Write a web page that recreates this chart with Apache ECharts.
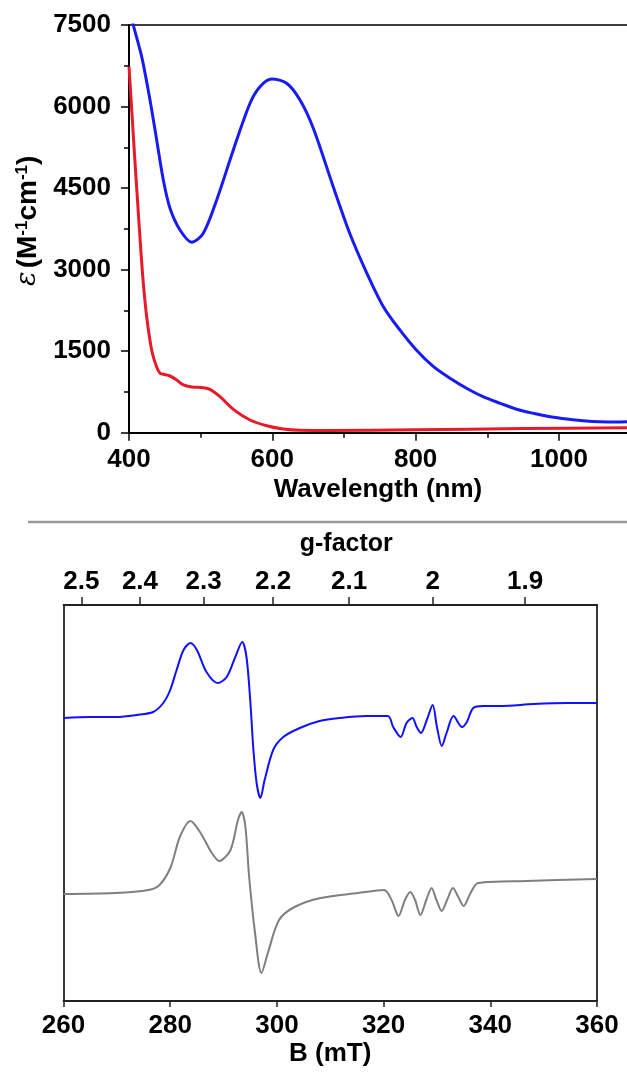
<!DOCTYPE html>
<html>
<head>
<meta charset="utf-8">
<script src="https://cdn.jsdelivr.net/npm/echarts@6/dist/echarts.min.js"></script>
<style>
  html, body { margin: 0; background: #fff; }
  #chart { width: 627px; height: 1073px; }
</style>
</head>
<body>
<div id="chart"></div>
<script>
// UV-vis: wavelength (nm) / epsilon (M-1 cm-1)
const blueLambda = [400, 406, 417.7, 429.3, 438.6, 447.9, 457.2, 471.2, 487.5, 503.7, 522.4, 545.6, 568.9, 582.8, 599.1, 620, 638.7, 657.2, 685, 708, 732, 755, 778, 801, 825, 848, 871, 894, 918, 941, 964, 988, 1011, 1034, 1057, 1081, 1095];
const blueEps    = [7830, 7500, 6918, 6122, 5386, 4650, 4130, 3729, 3503, 3669, 4282, 5202, 6061, 6366, 6508, 6429, 6120, 5600, 4526, 3669, 2933, 2318, 1890, 1522, 1214, 1001, 817, 662, 541, 431, 357, 294, 252, 221, 202, 197, 202];
const redLambda  = [400, 404, 408, 412, 416.5, 420, 424.7, 431.6, 438.5, 443.3, 448, 457.2, 466.6, 475.9, 487.5, 503.7, 513, 527, 545.6, 568.9, 592.2, 615.5, 638.7, 680, 800, 950, 1095];
const redEps     = [6734, 5900, 5050, 4250, 3362, 2749, 2134, 1522, 1214, 1093, 1075, 1043, 970, 878, 841, 828, 798, 662, 430, 234, 129, 68, 44, 40, 55, 75, 90];
const wavelengthTicks = [400, 600, 800, 1000];
const wavelengthMinor = [500, 700, 900];

// EPR: field (mT) / intensity (a.u.)
const expField = [260, 265, 270, 273.7, 276.8, 278.7, 280, 281.2, 282.5, 283.8, 285, 286.8, 288.9, 290.6, 292.2, 293.5, 294.3, 295, 295.6, 296.2, 296.9, 297.7, 299.3, 301.2, 304.3, 308, 311.8, 316.8, 320.8, 321.8, 323.2, 324.3, 325.4, 326.2, 327, 328.1, 329.2, 330, 330.9, 331.8, 333.1, 334.7, 335.6, 336.8, 338.7, 341.8, 348.1, 354.4, 360];
const expSignal = [283, 284, 284, 286, 289, 298, 311, 331, 351, 358, 351, 329, 318, 324, 344, 359, 344, 301, 251, 218, 203, 221, 251, 264, 273, 280, 283, 285, 285, 274, 264, 278, 283, 274, 268, 281, 296, 274, 255, 268, 285, 274, 279, 293, 295, 295, 297, 298, 298];
const simField = [260, 269.6, 275.9, 278, 280.1, 281.8, 283.8, 285.7, 287.8, 289.2, 291.3, 292.7, 293.4, 294.1, 294.8, 295.9, 297.1, 298.3, 300.4, 303.3, 308.2, 315.2, 320.1, 321.5, 322.8, 324, 325, 325.9, 326.9, 328, 329, 329.9, 330.9, 331.9, 333, 334, 335, 336.3, 337.7, 346.8, 360];
const simSignal = [107, 108, 111, 116, 134, 164, 180, 168, 148, 140, 151, 181, 189, 174, 124, 68, 28, 48, 81, 94, 103, 108, 111, 101, 85, 101, 109, 101, 86, 101, 113, 101, 90, 101, 113, 104, 95, 108, 118, 120, 122];
const gFactorTicks = [2.5, 2.4, 2.3, 2.2, 2.1, 2.0, 1.9];
const G_TIMES_B = 658.4; // h*nu/muB in mT (about 9.21 GHz)

const FONT = "'Liberation Sans', Arial, sans-serif";
const pairs = (xs, ys) => xs.map((x, i) => [x, ys[i]]);
const plain = v => String(v); // no thousands separator
const label = { fontFamily: FONT, fontWeight: 'bold', fontSize: 26, color: '#000' };
const noLine = { show: false };

const chart = echarts.init(document.getElementById('chart'));
chart.setOption({
  animation: false,
  grid: [
    { left: 129, top: 25, width: 498, height: 407.7 },
    { left: 63.5, top: 605, width: 533.5, height: 396 },
  ],
  xAxis: [
    {
      gridIndex: 0, type: 'value', min: 400, max: 1095,
      name: 'Wavelength (nm)', nameLocation: 'middle', nameGap: 44,
      nameTextStyle: label,
      axisLine: { onZero: false, lineStyle: { color: '#000', width: 2 } },
      axisTick: { customValues: wavelengthTicks, length: 8, lineStyle: { color: '#000', width: 1.5 } },
      axisLabel: { ...label, customValues: wavelengthTicks, margin: 14, formatter: plain },
      splitLine: noLine,
    },
    { // minor ticks
      gridIndex: 0, type: 'value', min: 400, max: 1095, position: 'bottom',
      axisLine: { show: false, onZero: false },
      axisTick: { customValues: wavelengthMinor, length: 5, lineStyle: { color: '#000', width: 1.5 } },
      axisLabel: noLine, splitLine: noLine,
    },
    { // top frame
      gridIndex: 0, type: 'value', min: 400, max: 1095, position: 'top',
      axisLine: { onZero: false, lineStyle: { color: '#000', width: 1.5 } },
      axisTick: noLine, axisLabel: noLine, splitLine: noLine,
    },
    {
      gridIndex: 1, type: 'value', min: 260, max: 360, interval: 20,
      name: 'B (mT)', nameLocation: 'middle', nameGap: 40,
      nameTextStyle: label,
      axisLine: { onZero: false, lineStyle: { color: '#222', width: 1.8 } },
      axisTick: { length: 6, lineStyle: { color: '#222', width: 1.5 } },
      axisLabel: { ...label, margin: 12, formatter: plain },
      splitLine: noLine,
    },
    {
      gridIndex: 1, type: 'value', min: 260, max: 360, position: 'top',
      name: 'g-factor', nameLocation: 'middle', nameGap: 48,
      nameTextStyle: { ...label, fontSize: 25, padding: [0, 0, 0, 32] },
      axisLine: { onZero: false, lineStyle: { color: '#222', width: 1.8 } },
      axisTick: { customValues: gFactorTicks.map(g => G_TIMES_B / g), length: 8, lineStyle: { color: '#222', width: 1.5 } },
      axisLabel: {
        ...label, margin: 10,
        customValues: gFactorTicks.map(g => G_TIMES_B / g),
        formatter: v => String(Math.round(G_TIMES_B / v * 10) / 10),
      },
      splitLine: noLine,
    },
  ],
  yAxis: [
    {
      gridIndex: 0, type: 'value', min: 0, max: 7500, interval: 1500,
      name: '{e|ε} {b|(M}{s|-1}{b|cm}{s|-1}{b|)}', nameLocation: 'middle', nameGap: 74, nameRotate: 90,
      nameTextStyle: {
        padding: [0, 0, 0, 16],
        rich: {
          e: { fontFamily: "'DejaVu Serif', serif", fontStyle: 'italic', fontSize: 27, color: '#000' },
          b: { fontFamily: FONT, fontWeight: 'bold', fontSize: 28, color: '#000' },
          s: { fontFamily: FONT, fontWeight: 'bold', fontSize: 17, color: '#000', verticalAlign: 'top' },
        },
      },
      axisLine: { show: true, onZero: false, lineStyle: { color: '#000', width: 2 } },
      axisTick: { show: true, length: 8, lineStyle: { color: '#000', width: 1.5 } },
      minorTick: { show: true, splitNumber: 2, length: 5, lineStyle: { color: '#000', width: 1.5 } },
      axisLabel: { ...label, margin: 18, formatter: plain },
      splitLine: noLine,
    },
    {
      gridIndex: 1, type: 'value', min: 0, max: 396,
      axisLine: { show: true, onZero: false, lineStyle: { color: '#222', width: 1.8 } },
      axisTick: noLine, axisLabel: noLine, splitLine: noLine,
    },
    {
      gridIndex: 1, type: 'value', min: 0, max: 396, position: 'right',
      axisLine: { show: true, onZero: false, lineStyle: { color: '#222', width: 1.8 } },
      axisTick: noLine, axisLabel: noLine, splitLine: noLine,
    },
  ],
  graphic: [{
    type: 'line', shape: { x1: 28, y1: 522, x2: 627, y2: 522 },
    style: { stroke: '#9a9a9a', lineWidth: 2.5 },
  }],
  series: [
    {
      type: 'line', xAxisIndex: 0, yAxisIndex: 0, data: pairs(blueLambda, blueEps),
      showSymbol: false, smooth: 0.3,
      lineStyle: { color: '#1a1af2', width: 3 },
    },
    {
      type: 'line', xAxisIndex: 0, yAxisIndex: 0, data: pairs(redLambda, redEps),
      showSymbol: false, smooth: 0.3,
      lineStyle: { color: '#e8192a', width: 3 },
    },
    {
      type: 'line', xAxisIndex: 3, yAxisIndex: 1, data: pairs(expField, expSignal),
      showSymbol: false, smooth: 0.3,
      lineStyle: { color: '#1010ff', width: 2 },
    },
    {
      type: 'line', xAxisIndex: 3, yAxisIndex: 1, data: pairs(simField, simSignal),
      showSymbol: false, smooth: 0.3,
      lineStyle: { color: '#7f7f7f', width: 2 },
    },
  ],
});
</script>
</body>
</html>
